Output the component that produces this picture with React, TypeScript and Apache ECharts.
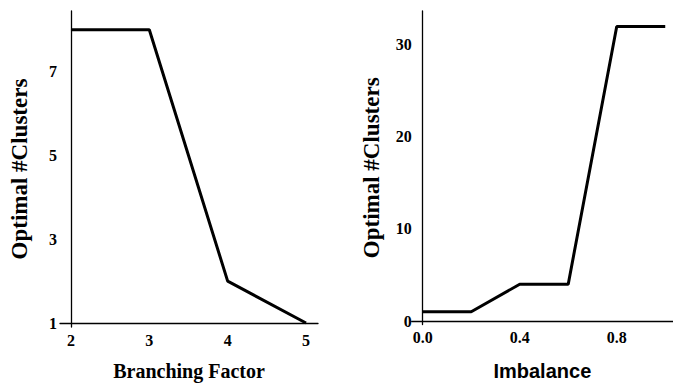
import React, { useEffect, useRef } from "react";
import * as echarts from "echarts";

const branchingX = [2, 3, 4, 5];
const branchingY = [8, 8, 2, 1];
const imbalanceX = [0, 0.2, 0.4, 0.6, 0.8, 1.0];
const imbalanceY = [1, 1, 4, 4, 32, 32];
const leftXTicks = [2, 3, 4, 5];
const leftYTicks = [1, 3, 5, 7];
const rightXTicks = [0, 0.4, 0.8];
const rightYTicks = [0, 10, 20, 30];

const serif = "'Liberation Serif', 'Times New Roman', serif";
const sans = "'Liberation Sans', Arial, sans-serif";

export default function App() {
  const ref = useRef<HTMLDivElement>(null);
  useEffect(() => {
    if (!ref.current) return;
    const chart = echarts.init(ref.current, undefined, { renderer: "svg" });
    const axisLine = { show: true, lineStyle: { color: "#000", width: 1.3 } };
    const labelBase = { color: "#000", fontFamily: serif, fontWeight: "bold" as const, fontSize: 16 };
    const option: any = {
      animation: false,
      backgroundColor: "#fff",
      grid: [
        { left: 60, top: 11, width: 258, height: 319 },
        { left: 411.7, top: 11, width: 261.3, height: 314 },
      ],
      xAxis: [
        {
          type: "value",
          gridIndex: 0,
          min: 1.86,
          max: 5.153,
          offset: -4,
          axisLine,
          axisTick: { show: false },
          splitLine: { show: false },
          axisLabel: { ...labelBase, customValues: leftXTicks, margin: 9 },
          name: "Branching Factor",
          nameLocation: "middle",
          nameGap: 38,
          nameTextStyle: { color: "#000", fontFamily: serif, fontWeight: "bold", fontSize: 20 },
        },
        {
          type: "value",
          gridIndex: 1,
          min: -0.0454,
          max: 1.032,
          offset: -3.5,
          axisLine,
          axisTick: { show: false },
          splitLine: { show: false },
          axisLabel: {
            ...labelBase,
            customValues: rightXTicks,
            margin: 8,
            formatter: (v: number) => v.toFixed(1),
          },
          name: "Imbalance",
          nameLocation: "middle",
          nameGap: 40,
          nameTextStyle: { color: "#000", fontFamily: sans, fontWeight: "bold", fontSize: 20 },
        },
      ],
      yAxis: [
        {
          type: "value",
          gridIndex: 0,
          min: 0.905,
          max: 8.447,
          offset: -11,
          axisLine,
          axisTick: { show: false },
          splitLine: { show: false },
          axisLabel: { ...labelBase, customValues: leftYTicks, margin: 14 },
          name: "Optimal #Clusters",
          nameLocation: "middle",
          nameGap: 40,
          nameTextStyle: { color: "#000", fontFamily: serif, fontWeight: "bold", fontSize: 23 },
        },
        {
          type: "value",
          gridIndex: 1,
          min: -0.38,
          max: 33.68,
          offset: -11,
          axisLine,
          axisTick: { show: false },
          splitLine: { show: false },
          axisLabel: { ...labelBase, customValues: rightYTicks, margin: 11 },
          name: "Optimal #Clusters",
          nameLocation: "middle",
          nameGap: 40,
          nameTextStyle: { color: "#000", fontFamily: serif, fontWeight: "bold", fontSize: 23 },
        },
      ],
      series: [
        {
          type: "line",
          xAxisIndex: 0,
          yAxisIndex: 0,
          data: branchingX.map((x, i) => [x, branchingY[i]]),
          showSymbol: false,
          lineStyle: { color: "#000", width: 3 },
        },
        {
          type: "line",
          xAxisIndex: 1,
          yAxisIndex: 1,
          data: imbalanceX.map((x, i) => [x, imbalanceY[i]]),
          showSymbol: false,
          lineStyle: { color: "#000", width: 3 },
        },
      ],
    };
    chart.setOption(option);
    return () => chart.dispose();
  }, []);
  return (
    <div
      ref={ref}
      style={{ position: "fixed", left: 0, top: 0, width: 673, height: 386 }}
    />
  );
}
